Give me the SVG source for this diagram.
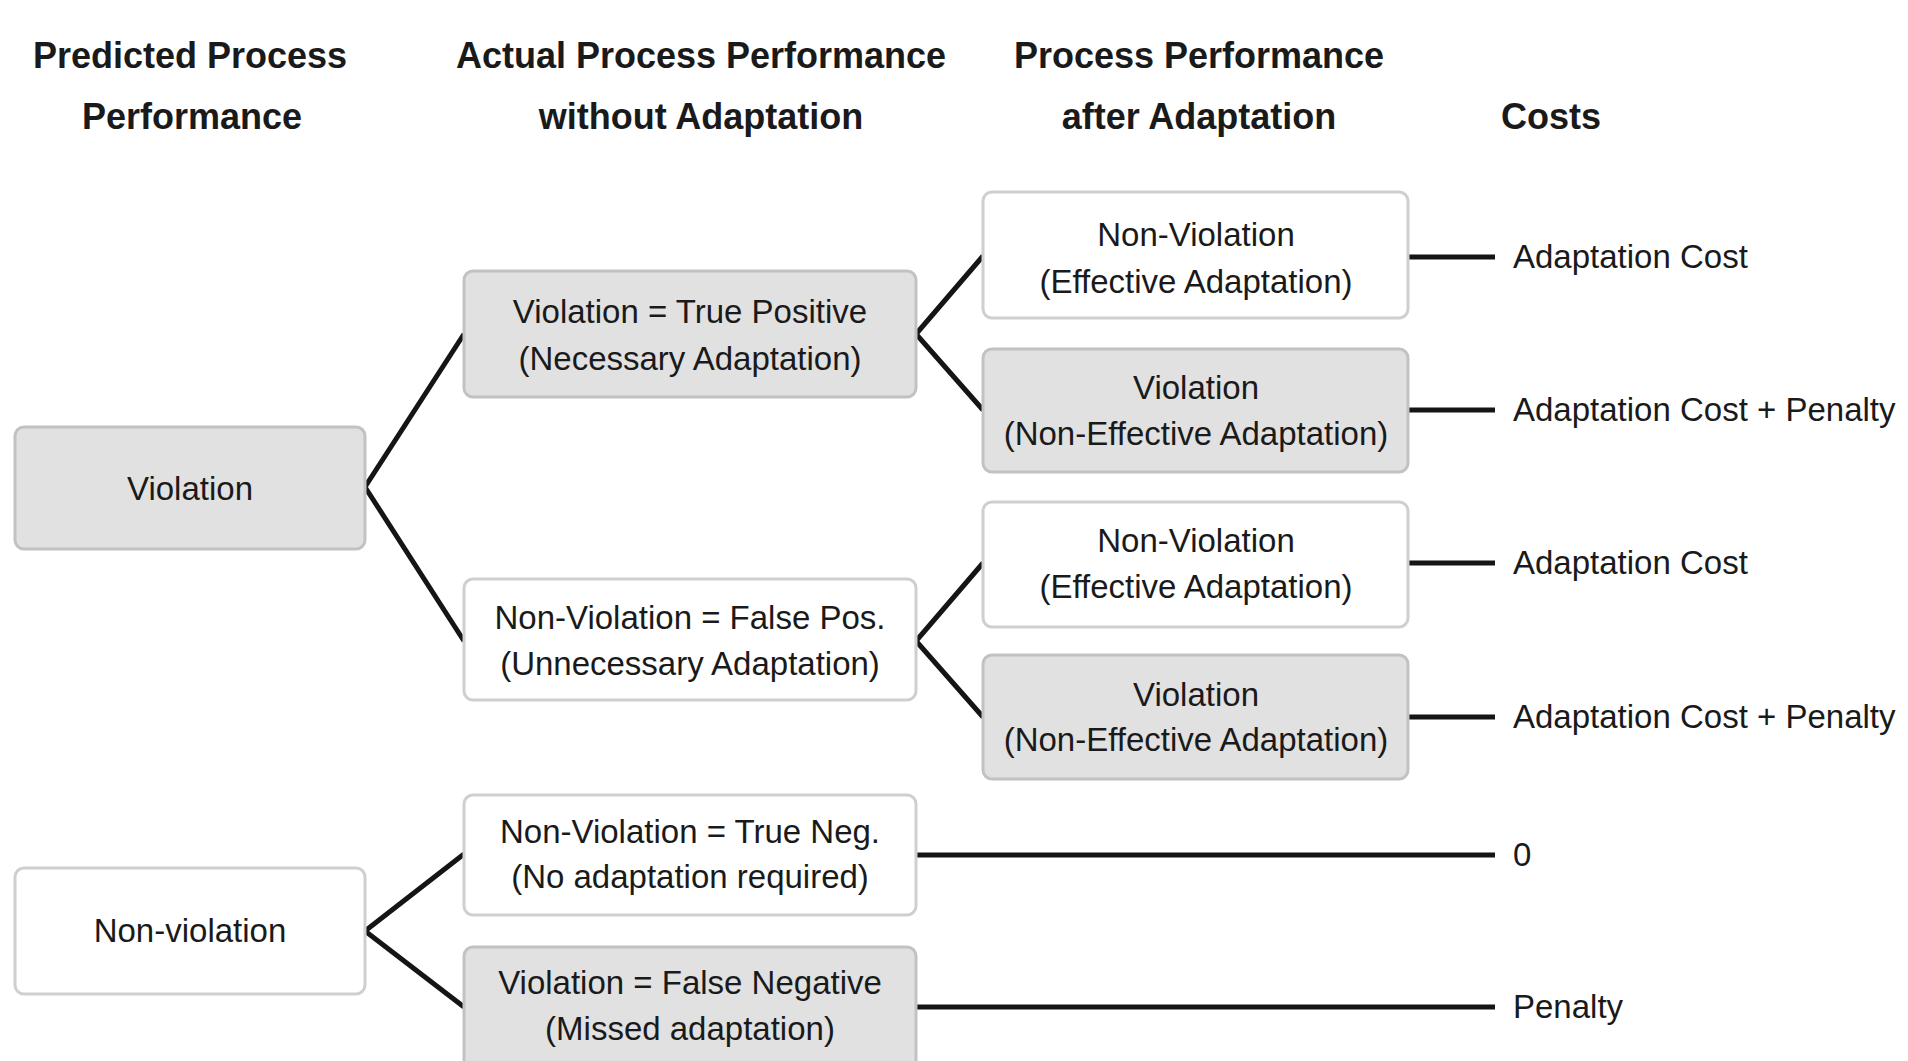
<svg xmlns="http://www.w3.org/2000/svg" width="1908" height="1061" viewBox="0 0 1908 1061">
<style>
.hdr{font-family:"Liberation Sans",Arial,sans-serif;font-weight:bold;font-size:36px;fill:#1a1a1a;text-anchor:middle}
.t{font-family:"Liberation Sans",Arial,sans-serif;font-size:33px;fill:#1a1a1a;text-anchor:middle}
.c{font-family:"Liberation Sans",Arial,sans-serif;font-size:33px;fill:#1a1a1a;text-anchor:start}
.g{fill:#e1e1e1;stroke:#c2c2c2;stroke-width:3}
.w{fill:#ffffff;stroke:#cfcfcf;stroke-width:3}
.ln{fill:none;stroke:#151515;stroke-width:5;stroke-linejoin:miter}
</style>
<rect width="1908" height="1061" fill="#ffffff"/>
<g id="headers">
<text class="hdr" x="190" y="68">Predicted Process</text>
<text class="hdr" x="192" y="129">Performance</text>
<text class="hdr" x="701" y="68">Actual Process Performance</text>
<text class="hdr" x="701" y="129">without Adaptation</text>
<text class="hdr" x="1199" y="68">Process Performance</text>
<text class="hdr" x="1199" y="129">after Adaptation</text>
<text class="hdr" x="1551" y="129">Costs</text>
</g>
<g id="connectors">
<polyline class="ln" points="464,334 365,487 464,641"/>
<polyline class="ln" points="983,256 916,334 983,410"/>
<polyline class="ln" points="983,563 916,641 983,717"/>
<polyline class="ln" points="464,854 365,931 464,1007"/>
<line class="ln" x1="1408" y1="257" x2="1495" y2="257"/>
<line class="ln" x1="1408" y1="410" x2="1495" y2="410"/>
<line class="ln" x1="1408" y1="563" x2="1495" y2="563"/>
<line class="ln" x1="1408" y1="717" x2="1495" y2="717"/>
<line class="ln" x1="916" y1="855" x2="1495" y2="855"/>
<line class="ln" x1="916" y1="1007" x2="1495" y2="1007"/>
</g>
<g id="n-violation">
<rect class="g" x="15" y="427" width="350" height="122" rx="9"/>
<text class="t" x="190" y="500">Violation</text>
</g>
<g id="n-nonviolation">
<rect class="w" x="15" y="868" width="350" height="126" rx="9"/>
<text class="t" x="190" y="942">Non-violation</text>
</g>
<g id="n-tp">
<rect class="g" x="464" y="271" width="452" height="126" rx="9"/>
<text class="t" x="690" y="323">Violation = True Positive</text>
<text class="t" x="690" y="370">(Necessary Adaptation)</text>
</g>
<g id="n-fp">
<rect class="w" x="464" y="579" width="452" height="121" rx="9"/>
<text class="t" x="690" y="629">Non-Violation = False Pos.</text>
<text class="t" x="690" y="675">(Unnecessary Adaptation)</text>
</g>
<g id="n-tn">
<rect class="w" x="464" y="795" width="452" height="120" rx="9"/>
<text class="t" x="690" y="843">Non-Violation = True Neg.</text>
<text class="t" x="690" y="888">(No adaptation required)</text>
</g>
<g id="n-fn">
<rect class="g" x="464" y="947" width="452" height="130" rx="9"/>
<text class="t" x="690" y="994">Violation = False Negative</text>
<text class="t" x="690" y="1040">(Missed adaptation)</text>
</g>
<g id="n-eff1">
<rect class="w" x="983" y="192" width="425" height="126" rx="9"/>
<text class="t" x="1196" y="246">Non-Violation</text>
<text class="t" x="1196" y="293">(Effective Adaptation)</text>
</g>
<g id="n-neff1">
<rect class="g" x="983" y="349" width="425" height="123" rx="9"/>
<text class="t" x="1196" y="399">Violation</text>
<text class="t" x="1196" y="445">(Non-Effective Adaptation)</text>
</g>
<g id="n-eff2">
<rect class="w" x="983" y="502" width="425" height="125" rx="9"/>
<text class="t" x="1196" y="552">Non-Violation</text>
<text class="t" x="1196" y="598">(Effective Adaptation)</text>
</g>
<g id="n-neff2">
<rect class="g" x="983" y="655" width="425" height="124" rx="9"/>
<text class="t" x="1196" y="706">Violation</text>
<text class="t" x="1196" y="751">(Non-Effective Adaptation)</text>
</g>
<g id="costs">
<text class="c" x="1513" y="268">Adaptation Cost</text>
<text class="c" x="1513" y="421">Adaptation Cost + Penalty</text>
<text class="c" x="1513" y="574">Adaptation Cost</text>
<text class="c" x="1513" y="728">Adaptation Cost + Penalty</text>
<text class="c" x="1513" y="866">0</text>
<text class="c" x="1513" y="1018">Penalty</text>
</g>
</svg>
